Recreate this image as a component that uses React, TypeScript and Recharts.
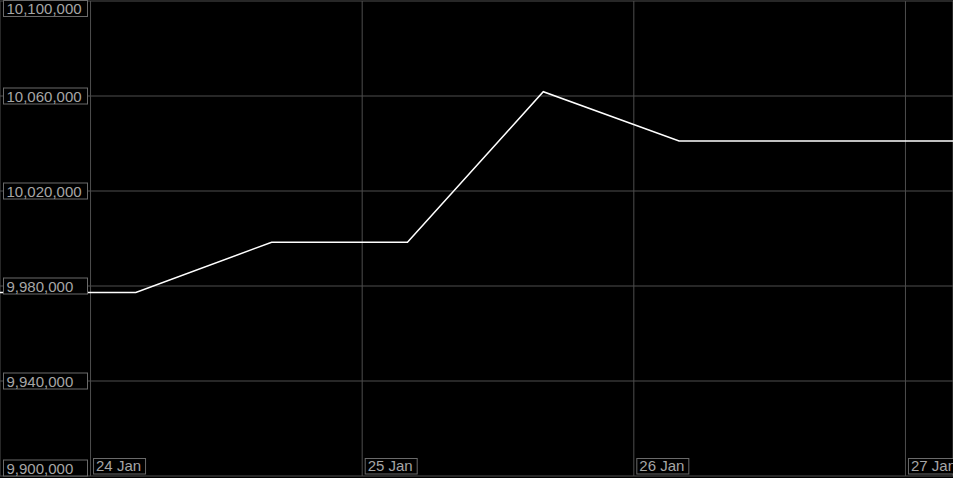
import React from "react";
import { LineChart, Line, XAxis, YAxis, CartesianGrid } from "recharts";

// hours relative to 24 Jan 00:00
const hours = [-8, 4, 16, 28, 40, 52, 64, 76, 88];
const values = [9977300, 9977300, 9998400, 9998400, 10061800, 10041050, 10041050, 10041050, 10041050];
const xTickHours = [0, 24, 48, 72];
const xTickLabels = ["24 Jan", "25 Jan", "26 Jan", "27 Jan"];
const yTicks = [9900000, 9940000, 9980000, 10020000, 10060000, 10100000];

const data = hours.map((h, i) => ({ h, v: values[i] }));

const W = 953;
const H = 478;
const FONT = "'Liberation Sans', Arial, sans-serif";
const TEXT = "#a6a6a6";
const BOX = "#6a6a6a";
const GRID = "#4e4e4e";

const fmt = (n: number) => n.toLocaleString("en-US");

const renderYTick = (props: any) => {
  const { y, payload } = props;
  let top = y - 8;
  if (top < 0.5) top = 0.5;
  if (top + 16 > 476) top = 476 - 16;
  return (
    <g key={`y-${payload.value}`}>
      <rect x={3.5} y={top} width={84} height={16} fill="#000" stroke={BOX} strokeWidth={1} />
      <text x={6.5} y={top + 13.5} fill={TEXT} fontSize={15} fontFamily={FONT}>
        {fmt(payload.value)}
      </text>
    </g>
  );
};

const renderXTick = (props: any) => {
  const { x, payload } = props;
  const idx = xTickHours.indexOf(payload.value);
  const label = idx >= 0 ? xTickLabels[idx] : "";
  return (
    <g key={`x-${payload.value}`}>
      <rect x={x + 3} y={458.5} width={52} height={15.5} fill="#000" stroke={BOX} strokeWidth={1} />
      <text x={x + 5.5} y={471} fill={TEXT} fontSize={15} fontFamily={FONT}>
        {label}
      </text>
    </g>
  );
};

export default function App() {
  return (
    <div style={{ position: "fixed", left: 0, top: 0, width: W, height: H, background: "#000" }}>
      <LineChart width={W} height={H} data={data} margin={{ top: 1, right: 0, bottom: 2, left: 0 }}>
        <CartesianGrid stroke={GRID} strokeWidth={1} />
        <Line
          type="linear"
          dataKey="v"
          stroke="#ffffff"
          strokeWidth={1.5}
          dot={false}
          activeDot={false}
          isAnimationActive={false}
        />
        <XAxis
          dataKey="h"
          type="number"
          domain={[-8, 76.2]}
          allowDataOverflow
          ticks={xTickHours}
          mirror
          tickSize={0}
          tickMargin={0}
          axisLine={false}
          tickLine={false}
          tick={renderXTick}
          interval={0}
        />
        <YAxis
          type="number"
          domain={[9900000, 10100000]}
          allowDataOverflow
          ticks={yTicks}
          mirror
          tickSize={0}
          tickMargin={0}
          axisLine={false}
          tickLine={false}
          tick={renderYTick}
          interval={0}
        />
      </LineChart>
    </div>
  );
}
